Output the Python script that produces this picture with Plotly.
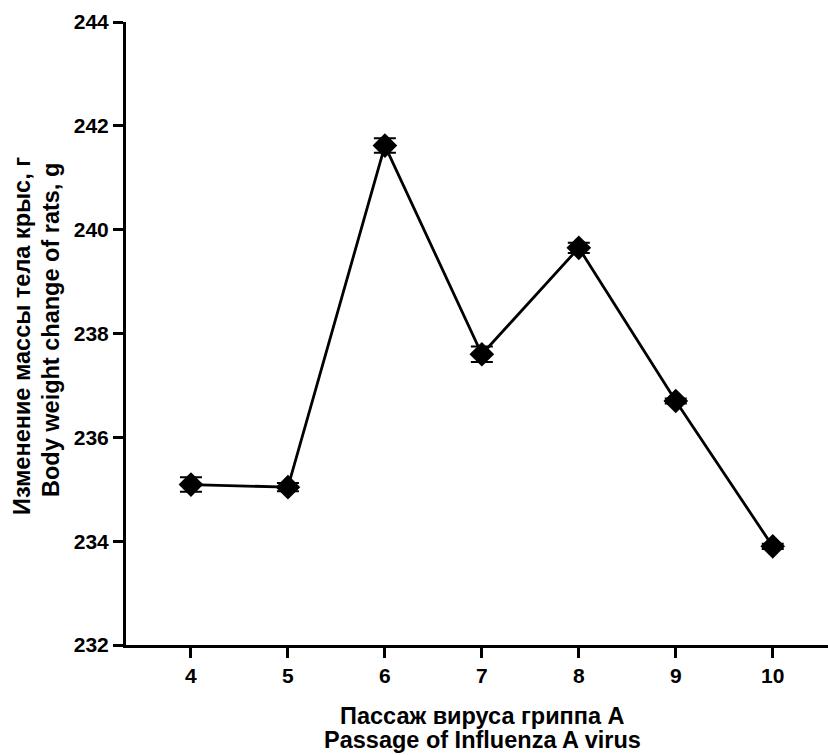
import plotly.graph_objects as go

passages = [4, 5, 6, 7, 8, 9, 10]
weights = [235.09, 235.04, 241.62, 237.6, 239.65, 236.7, 233.9]
errors = [0.14, 0.08, 0.14, 0.15, 0.1, 0.05, 0.05]
y_ticks = [232, 234, 236, 238, 240, 242, 244]

x_title = ["Пассаж вируса гриппа А", "Passage of Influenza A virus"]
y_title = ["Изменение массы тела крыс, г", "Body weight change of rats, g"]

font_family = "Liberation Sans, Arial, sans-serif"

fig = go.Figure()
fig.add_trace(go.Scatter(
    x=passages, y=weights,
    mode="lines+markers",
    line=dict(color="black", width=2.8),
    marker=dict(symbol="diamond", size=19, color="black"),
    error_y=dict(type="data", array=errors, visible=True, color="black", thickness=2, width=11),
    showlegend=False,
))

fig.update_layout(
    width=828, height=755,
    margin=dict(l=126, r=0, t=22, b=110),
    paper_bgcolor="white", plot_bgcolor="white",
    font=dict(family=font_family, color="black"),
    xaxis=dict(
        range=[3.33, 10.57], tickvals=passages, ticktext=[f"<b>{p}</b>" for p in passages],
        showline=True, linecolor="black", linewidth=3,
        ticks="outside", ticklen=10, tickwidth=3, tickcolor="black",
        showgrid=False, zeroline=False, automargin=False,
        tickfont=dict(size=21, family=font_family),
    ),
    yaxis=dict(
        range=[232, 244], tickvals=y_ticks, ticktext=[f"<b>{v}</b>" for v in y_ticks],
        showline=True, linecolor="black", linewidth=3,
        ticks="outside", ticklen=10, tickwidth=3, tickcolor="black",
        showgrid=False, zeroline=False, automargin=False,
        tickfont=dict(size=21, family=font_family),
    ),
)

plot_h = 755 - 22 - 110
plot_w = 828 - 126
for text, py in zip(x_title, [716, 740]):
    fig.add_annotation(text=f"<b>{text}</b>", xref="paper", yref="paper",
                       x=(482 - 126) / plot_w, y=(645 - py) / plot_h,
                       xanchor="center", yanchor="middle", showarrow=False,
                       font=dict(size=23.5, family=font_family, color="black"))
for text, px, py in zip(y_title, [22, 51], [336, 330]):
    fig.add_annotation(text=f"<b>{text}</b>", xref="paper", yref="paper",
                       x=(px - 126) / plot_w, y=(645 - py) / plot_h,
                       xanchor="center", yanchor="middle", showarrow=False, textangle=-90,
                       font=dict(size=23.5, family=font_family, color="black"))

fig.write_html("out.html", config={"displayModeBar": False},
               post_script="document.body.style.margin='0';")
